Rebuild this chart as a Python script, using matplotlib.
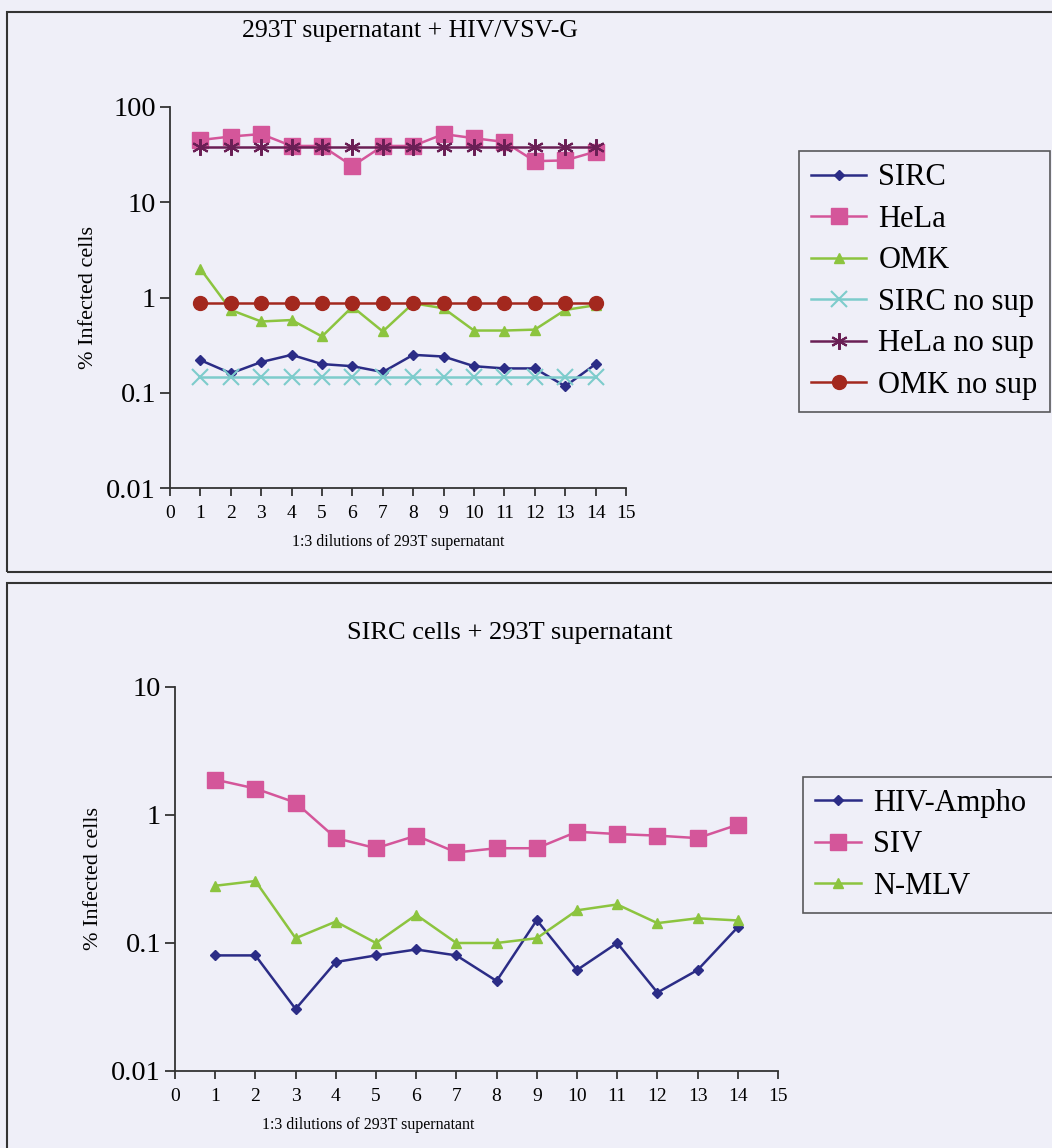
import numpy as np
import matplotlib.pyplot as plt
from matplotlib.patches import Rectangle
from matplotlib.ticker import FixedLocator, NullLocator

plt.rcParams['font.family'] = ['Liberation Serif', 'DejaVu Serif']

# ---- data ----
dilutions = [1, 2, 3, 4, 5, 6, 7, 8, 9, 10, 11, 12, 13, 14]

# top chart: 293T supernatant + HIV/VSV-G
sirc = [0.22, 0.16, 0.21, 0.25, 0.20, 0.19, 0.165, 0.25, 0.24, 0.19, 0.18, 0.18, 0.117, 0.20]
hela = [45, 49, 52, 39, 39, 24, 39, 39, 52, 47, 43, 27, 27.5, 34]
omk = [2.0, 0.74, 0.56, 0.58, 0.39, 0.80, 0.44, 0.87, 0.77, 0.45, 0.45, 0.46, 0.74, 0.83]
sirc_nosup = [0.147] * 14
hela_nosup = [38] * 14
omk_nosup = [0.88] * 14

# bottom chart: SIRC cells + 293T supernatant
hiv_ampho = [0.08, 0.08, 0.0305, 0.071, 0.08, 0.089, 0.08, 0.0505, 0.151, 0.0615, 0.10, 0.041, 0.0615, 0.133]
siv = [1.89, 1.61, 1.25, 0.66, 0.55, 0.69, 0.51, 0.55, 0.55, 0.74, 0.71, 0.69, 0.66, 0.84]
nmlv = [0.28, 0.305, 0.109, 0.147, 0.10, 0.166, 0.10, 0.10, 0.109, 0.18, 0.20, 0.143, 0.156, 0.15]

NAVY = '#2b2c86'
PINK = '#d4569a'
GREEN = '#8cc43f'
CYAN = '#7dcccc'
PURPLE = '#6a1f55'
RED = '#a3281e'
BG = '#efeff8'

W, H = 1052, 1148
fig = plt.figure(figsize=(W / 100, H / 100), dpi=100, facecolor=BG)


def rect(l, t, r, b):
    return [l / W, 1 - b / H, (r - l) / W, (b - t) / H]


def style_axes(ax, ymin, ymax, yticks, ylabels, xlab_x):
    ax.set_facecolor('none')
    ax.set_yscale('log')
    ax.set_ylim(ymin, ymax)
    ax.set_xlim(0, 15)
    ax.yaxis.set_major_locator(FixedLocator(yticks))
    ax.yaxis.set_minor_locator(NullLocator())
    ax.set_yticklabels(ylabels)
    ax.set_xticks(range(0, 16))
    ax.spines['top'].set_visible(False)
    ax.spines['right'].set_visible(False)
    for s in ['left', 'bottom']:
        ax.spines[s].set_linewidth(1.3)
        ax.spines[s].set_color('#333333')
    ax.tick_params(axis='y', direction='out', length=7, width=1.3, labelsize=20.5, pad=3, color='#333333')
    ax.tick_params(axis='x', direction='out', length=6, width=1.3, labelsize=14, pad=6, color='#333333')
    ax.set_ylabel('% Infected cells', fontsize=16, labelpad=6)
    ax.set_xlabel('1:3 dilutions of 293T supernatant', fontsize=11.5, labelpad=10)
    ax.xaxis.set_label_coords(xlab_x, -0.12)


def add_legend(ax, left, top, hlen, width=None, bottom=None):
    kw = dict(fontsize=22, frameon=True, fancybox=False, edgecolor='#333333', facecolor=BG,
              handlelength=hlen, handletextpad=0.4, labelspacing=0.41, borderpad=0.4, borderaxespad=0)
    if width is None:
        leg = ax.legend(loc='upper left', bbox_to_anchor=(left / W, 1 - top / H),
                        bbox_transform=fig.transFigure, **kw)
    else:
        leg = ax.legend(loc='lower left', mode='expand',
                        bbox_to_anchor=(left / W, 1 - bottom / H, width / W, (bottom - top) / H),
                        bbox_transform=fig.transFigure, **kw)
    leg.get_frame().set_linewidth(1.2)
    return leg


# ---- top chart ----
ax1 = fig.add_axes(rect(170, 107, 626, 488))
ax1.plot(dilutions, sirc, color=NAVY, lw=1.8, marker='D', ms=5, label='SIRC')
ax1.plot(dilutions, hela, color=PINK, lw=1.8, marker='s', ms=11, label='HeLa')
ax1.plot(dilutions, omk, color=GREEN, lw=1.8, marker='^', ms=7, label='OMK')
ax1.plot(dilutions, sirc_nosup, color=CYAN, lw=1.8, marker='x', ms=11, mew=1.5, label='SIRC no sup')
ax1.plot(dilutions, hela_nosup, color=PURPLE, lw=1.8, marker=(6, 2, 0), ms=12, mew=1.5, label='HeLa no sup')
ax1.plot(dilutions, omk_nosup, color=RED, lw=1.8, marker='o', ms=10, label='OMK no sup')
style_axes(ax1, 0.01, 100, [0.01, 0.1, 1, 10, 100], ['0.01', '0.1', '1', '10', '100'], 0.5)
add_legend(ax1, 799, 151, 1.8)

# ---- bottom chart ----
ax2 = fig.add_axes(rect(175, 687, 778, 1071))
ax2.plot(dilutions, hiv_ampho, color=NAVY, lw=1.8, marker='D', ms=5, label='HIV-Ampho')
ax2.plot(dilutions, siv, color=PINK, lw=1.8, marker='s', ms=11, label='SIV')
ax2.plot(dilutions, nmlv, color=GREEN, lw=1.8, marker='^', ms=7, label='N-MLV')
style_axes(ax2, 0.01, 10, [0.01, 0.1, 1, 10], ['0.01', '0.1', '1', '10'], (368 - 175) / 603)
add_legend(ax2, 803, 781, 1.5, width=270, bottom=913)

# ---- titles and page frames ----
fig.text(410 / W, 1 - 31 / H, '293T supernatant + HIV/VSV-G', ha='center', va='center', fontsize=18.5)
fig.text(510 / W, 1 - 633 / H, 'SIRC cells + 293T supernatant', ha='center', va='center', fontsize=19)
fig.add_artist(Rectangle((7 / W, 1 - 572 / H), 1.05, 560 / H, transform=fig.transFigure,
                         fill=False, edgecolor='#333333', lw=1.5))
fig.add_artist(Rectangle((7 / W, -0.05), 1.05, (1148 - 583) / H + 0.05, transform=fig.transFigure,
                         fill=False, edgecolor='#333333', lw=1.5))

fig.savefig('out.png', dpi=100, facecolor=BG)
